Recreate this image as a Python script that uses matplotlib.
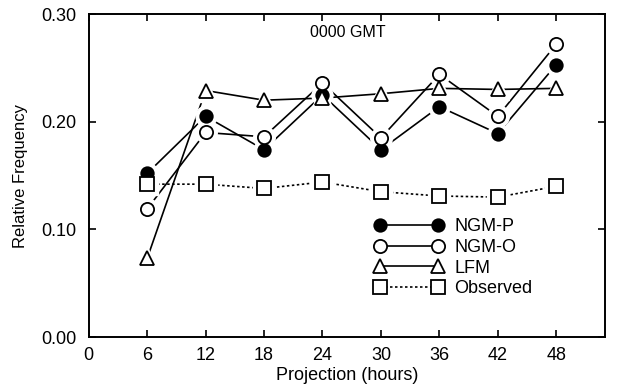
import matplotlib
matplotlib.use("Agg")
import matplotlib.pyplot as plt
from matplotlib.lines import Line2D

plt.rcParams['font.family'] = ['Liberation Sans', 'DejaVu Sans']

# Projection hours and relative frequencies
hours = [6, 12, 18, 24, 30, 36, 42, 48]
ngm_p = [0.152, 0.205, 0.174, 0.225, 0.174, 0.214, 0.189, 0.253]
ngm_o = [0.119, 0.190, 0.186, 0.236, 0.185, 0.244, 0.205, 0.272]
lfm = [0.073, 0.229, 0.220, 0.222, 0.226, 0.231, 0.230, 0.231]
observed = [0.142, 0.142, 0.138, 0.144, 0.135, 0.131, 0.130, 0.140]

x_ticks = [0, 6, 12, 18, 24, 30, 36, 42, 48]
y_ticks = [0.00, 0.10, 0.20, 0.30]

series = [
    ("NGM-P", ngm_p, dict(marker='o', mfc='black', mec='black', ms=9), '-'),
    ("NGM-O", ngm_o, dict(marker='o', mfc='white', mec='black', ms=9.5), '-'),
    ("LFM", lfm, dict(marker='^', mfc='white', mec='black', ms=10), '-'),
    ("Observed", observed, dict(marker='s', mfc='white', mec='black', ms=9.5), (0, (1.5, 1.5))),
]

fig = plt.figure(figsize=(6.17, 3.91), dpi=100)
ax = fig.add_axes([0.1438, 0.138, 0.9805 - 0.1438, 0.964 - 0.138])

handles = []
for name, vals, mk, ls in series:
    # connecting lines
    ax.plot(hours, vals, color='black', lw=1.2, ls=ls, zorder=1)
    # white halo that opens a small gap between line and marker
    ax.plot(hours, vals, ls='none', marker=mk['marker'], ms=mk['ms'] + 6,
            mfc='white', mec='white', zorder=2)
    ax.plot(hours, vals, ls='none', mew=1.3, zorder=3, **mk)
    handles.append(Line2D([], [], color='black', lw=1.2, ls=ls, mew=1.3, **mk))

ax.set_xlim(0, 53)
ax.set_ylim(0, 0.30)
ax.set_xticks(x_ticks)
ax.set_yticks(y_ticks)
ax.set_yticklabels([f"{v:.2f}" for v in y_ticks])
ax.tick_params(direction='in', top=True, right=True, length=5, width=1.2,
               labelsize=13)
ax.tick_params(axis='x', pad=7)
ax.tick_params(axis='y', pad=9)
for sp in ax.spines.values():
    sp.set_linewidth(1.4)

ax.set_xlabel("Projection (hours)", fontsize=13, labelpad=2)
ax.set_ylabel("Relative Frequency", fontsize=12, labelpad=9)
ax.text(26.6, 0.283, "0000 GMT", ha='center', va='center', fontsize=11.5)

leg = ax.legend(handles, [s[0] for s in series], numpoints=2, handlelength=3.8,
                handletextpad=0.6, labelspacing=0.2, frameon=False,
                fontsize=13, loc='upper left', bbox_to_anchor=(0.54, 0.39),
                borderaxespad=0)

fig.savefig("out.png", dpi=100)
